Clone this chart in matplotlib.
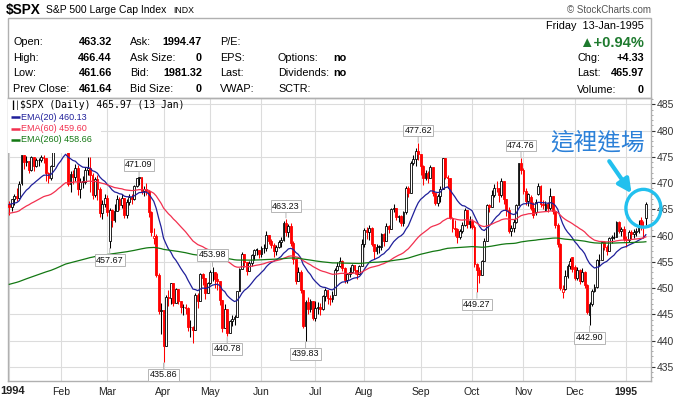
import matplotlib
matplotlib.use("Agg")
import matplotlib.pyplot as plt
import numpy as np
import pandas as pd
from matplotlib.patches import Rectangle, Ellipse, FancyArrowPatch

# $SPX daily candles, 3 Jan 1994 .. 13 Jan 1995
month_labels = ["1994", "Feb", "Mar", "Apr", "May", "Jun", "Jul", "Aug", "Sep", "Oct", "Nov", "Dec", "1995"]
days_per_month = [21, 19, 23, 19, 21, 22, 20, 23, 21, 21, 21, 21, 9]

closes = [
    # Jan
    465.4, 466.9, 467.6, 467.1, 469.9, 475.3, 474.1, 474.2, 472.5, 474.9, 473.3, 474.3, 474.3, 475.0, 474.7, 472.0, 470.9, 473.2, 477.1, 478.7, 481.6,
    # Feb
    479.6, 482.0, 480.7, 469.8, 471.8, 471.1, 472.8, 468.9, 470.2, 470.2, 472.5, 472.8, 471.5, 467.7, 470.7, 468.9, 464.3, 466.1, 467.1,
    # Mar
    464.4, 464.8, 463.0, 464.7, 466.9, 465.9, 467.1, 463.9, 466.4, 467.4, 467.0, 469.4, 470.9, 471.1, 468.5, 468.8, 468.5, 464.4, 460.6, 460.0, 452.5, 445.6, 445.8,
    # Apr
    438.9, 448.3, 448.1, 450.9, 447.1, 449.9, 447.6, 446.3, 446.4, 446.2, 442.5, 442.5, 442.0, 448.7, 447.6, 452.7, 451.9, 449.1, 450.9,
    # May
    453.0, 453.0, 451.7, 451.4, 447.8, 442.3, 446.0, 441.5, 443.8, 444.1, 444.5, 449.4, 453.7, 456.5, 454.9, 453.2, 454.8, 456.3, 457.3, 457.3, 456.5,
    # Jun
    457.6, 457.7, 460.1, 458.9, 458.2, 457.1, 457.9, 458.7, 459.1, 462.4, 460.6, 461.9, 458.5, 455.5, 451.3, 453.1, 449.6, 442.8, 447.3, 446.1, 447.6, 444.3,
    # Jul
    446.2, 446.4, 446.1, 448.4, 449.6, 448.1, 448.0, 448.7, 453.4, 454.2, 455.2, 453.9, 451.6, 452.6, 453.1, 454.3, 453.4, 452.6, 454.2, 458.3,
    # Aug
    461.0, 460.6, 461.5, 458.4, 457.1, 457.9, 457.9, 460.3, 458.9, 461.9, 461.2, 465.0, 465.2, 463.6, 463.7, 462.3, 464.5, 469.0, 468.1, 473.8, 474.6, 476.1, 475.5,
    # Sep
    473.2, 471.0, 471.9, 471.0, 473.1, 468.2, 466.2, 467.5, 468.8, 474.8, 471.2, 470.9, 463.4, 461.5, 461.3, 459.7, 460.8, 462.1, 464.8, 462.2, 462.7,
    # Oct
    461.7, 454.6, 453.5, 452.4, 455.1, 459.0, 465.8, 465.5, 467.8, 469.1, 469.0, 467.7, 470.3, 466.9, 464.9, 460.8, 461.5, 462.6, 465.8, 473.8, 472.4,
    # Nov
    468.4, 466.5, 467.9, 465.3, 464.0, 466.4, 469.5, 466.0, 465.8, 466.0, 465.3, 467.5, 464.7, 462.0, 458.3, 450.1, 449.9, 452.3, 454.2, 455.2, 453.7,
    # Dec
    452.0, 453.5, 451.3, 453.0, 450.5, 445.5, 447.0, 449.5, 450.2, 455.3, 455.3, 458.8, 457.9, 457.1, 459.6, 459.7, 459.8, 462.5, 460.9, 461.2, 459.3,
    # Jan 1995
    459.1, 460.7, 460.3, 460.7, 460.8, 461.7, 461.66, 461.64, 465.97,
]

opens = [
    466.1, 465.4, 466.9, 467.6, 467.1, 470.0, 475.3, 474.1, 474.2, 472.5, 474.9, 473.3, 474.3, 474.3, 475.0, 474.7, 472.0, 470.9, 473.2, 477.1, 478.7,
    481.6, 479.6, 482.0, 480.5, 469.8, 471.8, 471.1, 472.8, 468.9, 470.2, 470.2, 472.5, 472.8, 471.5, 467.7, 470.7, 468.9, 464.3, 466.1,
    467.1, 459.0, 464.8, 463.0, 464.7, 466.9, 465.9, 467.1, 463.9, 466.4, 467.4, 467.0, 469.4, 470.9, 471.1, 468.5, 468.8, 468.5, 464.4, 459.6, 460.0, 452.5, 445.6,
    445.8, 438.9, 448.3, 448.1, 450.9, 447.1, 449.9, 447.6, 446.3, 446.4, 446.2, 442.5, 442.5, 442.0, 448.7, 447.6, 452.7, 451.9, 449.1,
    450.9, 453.0, 453.0, 451.7, 451.4, 447.8, 442.3, 446.0, 441.5, 443.8, 444.1, 444.5, 449.4, 453.7, 456.5, 454.9, 453.2, 454.8, 456.3, 457.3, 457.3,
    456.5, 457.6, 457.7, 460.1, 458.9, 458.2, 457.1, 457.9, 458.7, 459.1, 462.4, 460.6, 461.9, 458.5, 455.5, 451.3, 453.1, 449.6, 442.8, 447.3, 446.1, 447.6,
    444.3, 446.2, 446.4, 446.1, 448.4, 449.6, 448.1, 448.0, 448.7, 453.4, 454.2, 455.2, 453.9, 451.6, 452.6, 453.1, 454.3, 453.4, 452.6, 454.2,
    458.3, 461.0, 460.6, 461.5, 458.4, 457.1, 457.9, 457.9, 460.3, 458.9, 461.9, 461.2, 465.0, 465.2, 463.6, 463.7, 462.3, 464.5, 469.0, 468.1, 473.8, 474.6, 476.1,
    475.5, 473.2, 471.0, 471.9, 471.0, 473.1, 468.2, 466.2, 467.5, 468.8, 474.8, 471.2, 470.9, 463.4, 461.5, 461.3, 459.7, 460.8, 462.1, 464.8, 462.2,
    462.7, 461.7, 454.6, 453.5, 452.4, 455.1, 459.0, 465.8, 465.5, 467.8, 469.1, 469.0, 467.7, 470.3, 466.9, 464.9, 460.8, 461.5, 462.6, 465.8, 473.8,
    472.4, 468.4, 466.5, 467.4, 465.3, 464.5, 468.0, 469.5, 466.0, 464.9, 466.0, 465.3, 467.5, 464.7, 462.0, 458.3, 449.3, 449.9, 452.3, 454.2, 455.9,
    454.0, 452.0, 453.5, 451.3, 453.0, 450.5, 444.8, 447.0, 449.5, 450.2, 455.3, 455.3, 458.8, 457.9, 457.1, 459.6, 459.7, 459.8, 462.5, 460.9, 461.2,
    459.3, 459.1, 460.7, 460.3, 460.7, 460.8, 463.0, 461.7, 463.32,
]

highs = [
    466.5, 467.0, 467.9, 469.0, 470.3, 475.3, 475.3, 475.1, 474.2, 475.2, 475.0, 474.7, 474.7, 475.3, 475.3, 474.8, 472.1, 473.5, 477.6, 479.0, 482.2,
    481.9, 483.0, 482.3, 481.0, 472.3, 472.5, 473.6, 473.4, 471.0, 471.4, 473.0, 475.0, 475.0, 472.0, 471.1, 471.5, 469.3, 466.8, 468.0,
    467.8, 465.2, 465.0, 466.0, 467.7, 467.4, 467.9, 467.1, 466.9, 467.9, 467.9, 469.7, 471.0, 471.09, 471.0, 469.4, 470.0, 468.6, 464.6, 461.5, 460.3, 452.9, 447.1,
    445.8, 448.6, 449.6, 451.0, 450.9, 450.0, 449.9, 447.6, 447.0, 446.9, 446.4, 444.0, 442.8, 449.0, 449.0, 452.8, 452.8, 451.9, 451.2,
    453.5, 453.98, 453.1, 452.8, 451.4, 447.8, 447.0, 446.0, 443.9, 444.8, 444.8, 449.5, 453.9, 456.9, 456.5, 454.9, 455.2, 456.4, 457.4, 457.6, 457.3,
    458.0, 458.4, 460.9, 460.1, 459.3, 458.5, 458.2, 459.2, 459.7, 462.7, 463.23, 462.2, 462.4, 458.9, 455.6, 454.0, 453.5, 449.6, 447.7, 448.3, 448.0, 447.6,
    447.6, 447.3, 447.1, 448.6, 450.0, 449.6, 448.6, 449.5, 453.8, 455.0, 456.0, 455.4, 454.0, 452.9, 454.0, 454.5, 454.3, 453.5, 454.4, 459.3,
    461.5, 461.6, 462.0, 461.6, 458.4, 458.4, 458.2, 460.5, 460.4, 462.4, 462.0, 465.3, 466.0, 465.2, 464.0, 463.9, 464.6, 469.4, 469.4, 474.2, 475.4, 476.6, 477.62,
    475.6, 473.5, 472.4, 472.3, 473.4, 473.1, 468.2, 468.0, 469.4, 474.8, 474.8, 471.6, 470.9, 463.6, 462.9, 461.5, 461.2, 462.5, 465.3, 464.9, 463.8,
    463.1, 462.0, 454.7, 454.0, 455.4, 459.5, 466.1, 466.0, 468.6, 469.9, 470.3, 469.0, 470.9, 470.3, 467.0, 465.5, 462.0, 463.1, 466.0, 473.8, 474.76,
    472.8, 469.0, 468.2, 467.8, 466.4, 467.0, 470.0, 469.6, 466.8, 466.5, 466.4, 469.0, 467.6, 464.8, 462.4, 458.5, 450.5, 453.4, 454.6, 455.7, 456.0,
    454.3, 454.0, 453.6, 453.8, 453.3, 450.8, 447.4, 449.8, 450.8, 455.6, 456.5, 458.9, 459.0, 458.2, 459.8, 460.1, 460.6, 462.7, 462.8, 461.6, 461.9,
    459.9, 461.0, 461.0, 461.3, 461.5, 463.0, 463.6, 462.8, 466.44,
]

lows = [
    464.0, 464.6, 465.9, 466.6, 467.0, 469.7, 472.7, 473.2, 471.9, 472.3, 472.3, 473.0, 473.2, 474.0, 473.9, 470.3, 470.0, 470.6, 473.2, 476.9, 478.6,
    478.5, 479.0, 479.4, 469.5, 468.3, 469.8, 470.4, 467.8, 467.1, 469.0, 469.9, 471.5, 468.3, 466.9, 467.4, 466.8, 463.5, 463.2, 465.5,
    463.7, 457.67, 461.7, 462.5, 464.6, 464.8, 465.2, 463.3, 463.4, 465.9, 466.0, 466.8, 469.3, 469.7, 467.9, 467.5, 467.8, 463.5, 459.9, 458.3, 452.1, 445.1, 441.3,
    435.86, 438.9, 446.5, 447.0, 446.6, 447.1, 446.9, 445.2, 444.9, 445.0, 441.8, 440.7, 439.6, 442.0, 446.2, 447.6, 450.6, 448.0, 449.0,
    450.7, 451.3, 450.0, 449.7, 446.7, 441.6, 442.3, 440.78, 441.5, 442.7, 442.9, 444.5, 449.4, 453.7, 454.0, 452.4, 453.2, 454.2, 455.3, 456.3, 455.7,
    455.9, 456.7, 457.0, 458.3, 457.6, 455.9, 456.3, 457.6, 457.9, 459.0, 460.0, 459.8, 458.1, 454.6, 450.8, 451.3, 449.1, 442.4, 439.83, 445.0, 445.4, 443.9,
    443.7, 445.1, 444.8, 445.9, 447.6, 446.9, 446.8, 447.4, 448.7, 453.2, 454.0, 453.2, 450.9, 451.0, 452.1, 452.8, 452.6, 451.8, 452.6, 454.2,
    457.8, 459.3, 459.1, 458.0, 455.5, 456.5, 456.6, 457.3, 458.0, 458.9, 460.4, 461.2, 464.4, 462.9, 462.5, 461.9, 461.9, 464.2, 467.3, 468.1, 473.4, 473.2, 474.3,
    471.5, 469.7, 470.5, 470.1, 470.9, 467.6, 465.8, 465.6, 466.3, 468.8, 470.7, 469.1, 463.1, 460.6, 459.9, 458.6, 459.4, 460.5, 461.9, 461.5, 461.4,
    461.3, 454.1, 449.27, 451.0, 452.4, 455.1, 459.0, 464.4, 465.5, 467.4, 468.3, 466.4, 467.3, 466.1, 463.8, 460.5, 460.0, 460.6, 462.3, 465.8, 471.7,
    467.9, 465.8, 465.6, 464.9, 463.4, 464.0, 467.8, 465.5, 465.0, 464.6, 464.4, 464.8, 464.2, 461.5, 457.8, 449.6, 448.2, 449.6, 452.0, 453.6, 453.0,
    451.6, 451.5, 450.8, 451.1, 450.0, 445.0, 442.9, 446.5, 449.2, 450.1, 454.2, 455.3, 457.3, 456.3, 457.0, 458.6, 459.3, 459.8, 460.4, 459.9, 459.0,
    457.9, 458.7, 459.4, 459.5, 459.9, 460.4, 461.0, 459.5, 461.66,
]

# EMA values on 31 Dec 1993 (left edge of the chart), the rest comes from the closes
ema_periods = [20, 60, 260]
ema_seed = [466.0, 464.2, 450.6]
ema_colors = ["#1f1f9a", "#f2304f", "#137813"]
ema_legend = ["EMA(20) 460.13", "EMA(60) 459.60", "EMA(260) 458.66"]

# labelled swing points: (day index, value, above/below)
swing_points = [(53, 471.09, "hi"), (41, 457.67, "lo"), (63, 435.86, "lo"), (83, 453.98, "hi"),
                (89, 440.78, "lo"), (113, 463.23, "hi"), (121, 439.83, "lo"), (167, 477.62, "hi"),
                (191, 449.27, "lo"), (209, 474.76, "hi"), (237, 442.90, "lo")]

FONT = ["Liberation Sans", "DejaVu Sans"]
plt.rcParams["font.family"] = FONT

W, H = 679, 397
fig = plt.figure(figsize=(W / 100, H / 100), dpi=100)

def fx(px):
    return px / W

def fy(py):
    return 1 - py / H

# ---- chart panel ----
ax = fig.add_axes([fx(8), fy(381), fx(651) - fx(8), fy(98) - fy(381)])
ax.set_xlim(-0.53, 262.1)
ax.set_ylim(432.3, 486.2)

n = len(closes)
x = np.arange(n)
c = np.array(closes)
o = np.array(opens)
hi = np.array(highs)
lo = np.array(lows)
prev = np.concatenate([[466.4], c[:-1]])
up = c >= prev
col = np.where(up, "black", "#ff0000")
hollow = c > o

ax.vlines(x, lo, hi, colors=col, linewidth=0.75, zorder=3)
body_lo = np.minimum(o, c)
body_h = np.maximum(np.abs(c - o), 0.12)
face = [("white" if h else cc) for h, cc in zip(hollow, col)]
ax.bar(x, body_h, bottom=body_lo, width=0.75, color=face, edgecolor=col, linewidth=0.6, zorder=4)

for period, seed, colr in zip(ema_periods, ema_seed, ema_colors):
    ema = pd.Series([seed] + closes).ewm(span=period, adjust=False).mean().iloc[1:]
    ax.plot(x, ema.values, color=colr, linewidth=0.9, zorder=5)

# grid + month labels
month_starts = np.concatenate([[0], np.cumsum(days_per_month)[:-1]])
ax.set_xticks(month_starts)
ax.set_xticklabels([""] + month_labels[1:])
for lab in ax.get_xticklabels():
    if lab.get_text() == "1995":
        lab.set_fontweight("bold")
        lab.set_fontsize(8)
# first year label sits flush with the left edge
fig.text(0, fy(391), month_labels[0], fontsize=8, fontweight="bold", va="center", ha="left", color="#222222")
ax.set_yticks(np.arange(435, 486, 5))
ax.set_yticks(np.arange(433, 487, 1), minor=True)
ax.yaxis.tick_right()
ax.grid(True, color="#dcdcdc", linewidth=0.8, zorder=0)
ax.tick_params(axis="x", length=0, labelsize=7.5, pad=4, colors="#222222")
ax.tick_params(axis="y", which="major", length=3, labelsize=7.5, pad=1, colors="#333333")
ax.tick_params(axis="y", which="minor", length=1.5, colors="#999999")
for s in ax.spines.values():
    s.set_color("#b0b0b0")
    s.set_linewidth(1)

# swing labels
for d, val, kind in swing_points:
    dy = 9 if kind == "hi" else -9
    ax.annotate(f"{val:.2f}", xy=(d, val), xytext=(0, dy), textcoords="offset points",
                ha="center", va="center", fontsize=6.5, color="#111111", zorder=8,
                bbox=dict(boxstyle="square,pad=0.15", fc="white", ec="#b5b5b5", lw=0.7),
                arrowprops=dict(arrowstyle="-", color="#b5b5b5", lw=0.7, shrinkA=0, shrinkB=0.5))

# legend block (white background hides the late-Jan candles, like the original)
ax.add_patch(Rectangle((0.0, 0.805), 0.145, 0.19, transform=ax.transAxes, fc="white", ec="none", zorder=6))
ax.text(0.018, 0.975, "$SPX (Daily) 465.97 (13 Jan)", transform=ax.transAxes, fontsize=7,
        family="DejaVu Sans Mono", va="center", ha="left", zorder=7)
ax.text(0.004, 0.975, "\u2503\u2502", transform=ax.transAxes, fontsize=6, va="center", ha="left", zorder=7,
        family="DejaVu Sans")
for i, (txt, colr) in enumerate(zip(ema_legend, ema_colors)):
    yy = 0.932 - i * 0.04
    ax.plot([0.004, 0.018], [yy, yy], transform=ax.transAxes, color=colr, linewidth=1.8, zorder=7,
            solid_capstyle="butt")
    ax.text(0.02, yy, txt, transform=ax.transAxes, fontsize=6.5, color=colr, va="center", ha="left", zorder=7)

# callout: text, arrow, circle
cyan = "#22c0ee"
ax.text(240.1, 477.6, "這裡進場", fontsize=17, color="#2b80d8", ha="center", va="center",
        family=["Noto Sans CJK TC", "DejaVu Sans"], zorder=9)
ax.add_patch(FancyArrowPatch((244.4, 474.6), (254.8, 467.6), arrowstyle="-|>", mutation_scale=20,
                             color=cyan, linewidth=3.0, zorder=9, clip_on=False))
ax.add_patch(Ellipse((259.0, 465.2), 14.3, 7.2, fill=False, ec=cyan, linewidth=2.4, zorder=9, clip_on=False))

# ---- header ----
fig.add_artist(Rectangle((fx(8), fy(98)), fx(651) - fx(8), fy(18) - fy(98), transform=fig.transFigure,
                         fill=False, ec="#b0b0b0", lw=1))
fig.text(fx(6), fy(10), "$SPX", fontsize=9.8, fontweight="bold", va="center", ha="left")
fig.text(fx(46), fy(10), "S&P 500 Large Cap Index", fontsize=7.5, va="center", ha="left")
fig.text(fx(173), fy(10.5), "INDX", fontsize=6.3, va="center", ha="left")
fig.text(fx(651), fy(10), "\u00a9 StockCharts.com", fontsize=7, color="#555555", va="center", ha="right")

rows = [42, 58, 73, 89]
col1 = ["Open:", "High:", "Low:", "Prev Close:"]
val1 = ["463.32", "466.44", "461.66", "461.64"]
col2 = ["Ask:", "Ask Size:", "Bid:", "Bid Size:"]
val2 = ["1994.47", "0", "1981.32", "0"]
col3 = ["P/E:", "EPS:", "Last:", "VWAP:"]
col4 = ["", "Options:", "Dividends:", "SCTR:"]
val4 = ["", "no", "no", ""]
for r, a, b, cc, d, e, f, g in zip(rows, col1, val1, col2, val2, col3, col4, val4):
    fig.text(fx(13), fy(r), a, fontsize=7.8, va="center")
    fig.text(fx(112), fy(r), b, fontsize=7.8, fontweight="bold", va="center", ha="right")
    fig.text(fx(130), fy(r), cc, fontsize=7.8, va="center")
    fig.text(fx(202), fy(r), d, fontsize=7.8, fontweight="bold", va="center", ha="right")
    fig.text(fx(220), fy(r), e, fontsize=7.8, va="center")
    fig.text(fx(278), fy(r), f, fontsize=7.8, va="center")
    fig.text(fx(333), fy(r), g, fontsize=7.8, fontweight="bold", va="center")

fig.text(fx(644), fy(26), "Friday  13-Jan-1995", fontsize=7.8, va="center", ha="right")
fig.text(fx(644), fy(43), "\u25b2+0.94%", fontsize=10.5, fontweight="bold", color="#1e7a2e", va="center", ha="right")
for r, lab, v in zip([58, 73, 90], ["Chg:", "Last:", "Volume:"], ["+4.33", "465.97", "0"]):
    fig.text(fx(577), fy(r), lab, fontsize=7.8, va="center")
    fig.text(fx(644), fy(r), v, fontsize=7.8, fontweight="bold", va="center", ha="right")

fig.savefig("out.png", dpi=100)
